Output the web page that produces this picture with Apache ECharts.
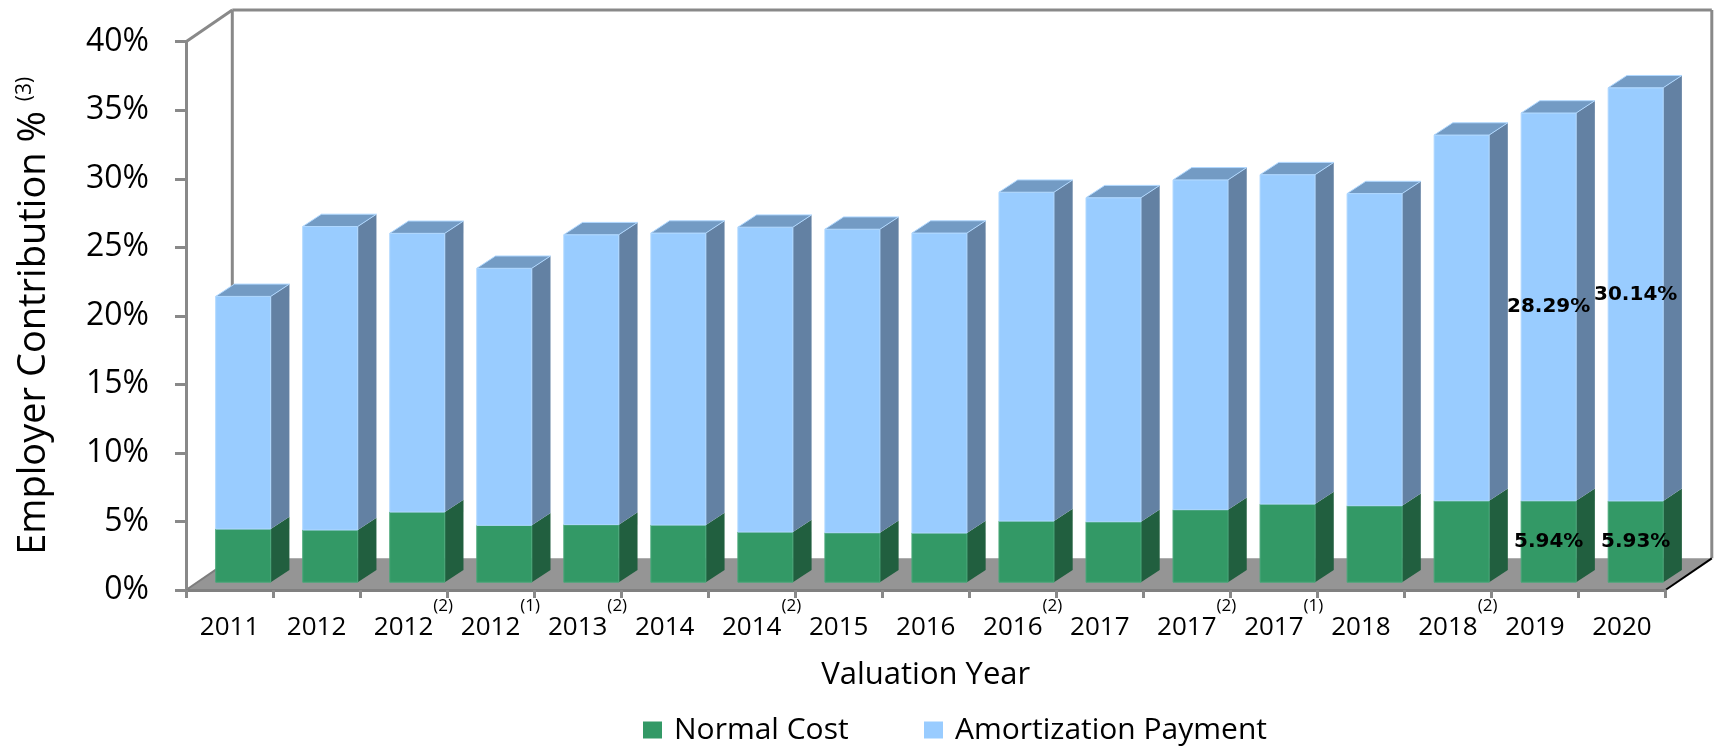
<!DOCTYPE html>
<html>
<head>
<meta charset="utf-8">
<title>Employer Contribution</title>
<script src="https://cdn.jsdelivr.net/npm/echarts@6/dist/echarts.min.js"></script>
<style>
    html, body { margin: 0; padding: 0; background: #fff; }
    #chart { width: 1718px; height: 747px; }
</style>
</head>
<body>
<div id="chart"></div>
<script>
var years = ['2011', '2012', '2012', '2012', '2013', '2014', '2014', '2015', '2016', '2016', '2017', '2017', '2017', '2018', '2018', '2019', '2020'];
var notes = ['', '', '(2)', '(1)', '(2)', '', '(2)', '', '', '(2)', '', '(2)', '(1)', '', '(2)', '', ''];
var normalCost = [3.88, 3.81, 5.12, 4.15, 4.20, 4.17, 3.66, 3.61, 3.59, 4.46, 4.41, 5.29, 5.70, 5.58, 5.94, 5.94, 5.93];
var amortPayment = [16.97, 22.14, 20.33, 18.75, 21.15, 21.30, 22.24, 22.14, 21.88, 23.99, 23.64, 24.06, 24.03, 22.77, 26.68, 28.29, 30.14];
var labelled = [15, 16];

var chart = echarts.init(document.getElementById('chart'));

// fake 3d, all in px
var WALL_DX = 46.3, WALL_DY = -31.7;
var FRONT_DX = 13.7, FRONT_DY = -7.8;
var SIDE_DX = 18.7, SIDE_DY = -12.3;
var BAR_W = 0.632;
var FONT = '"Open Sans", "Noto Sans", sans-serif';
var LINE = '#898989';

// categories must be unique, so keep the note on them
var categories = years.map(function (y, i) { return y + notes[i]; });

var normalData = normalCost.map(function (v, i) { return [i, 0, v]; });
var amortData = amortPayment.map(function (v, i) { return [i, normalCost[i], normalCost[i] + v]; });

function barItem(faces) {
    return function (params, api) {
        var k = api.value(0);
        var lo = api.coord([k, api.value(1)]);
        var hi = api.coord([k, api.value(2)]);
        var w = api.size([1, 0])[0] * BAR_W;
        var x = lo[0] + FRONT_DX - w / 2;
        var yb = lo[1] + FRONT_DY;
        var yt = hi[1] + FRONT_DY;
        var children = [
            {
                type: 'polygon',
                shape: { points: [[x + w, yb], [x + w, yt], [x + w + SIDE_DX, yt + SIDE_DY], [x + w + SIDE_DX, yb + SIDE_DY]] },
                style: { fill: faces.side }
            },
            {
                type: 'rect',
                shape: { x: x, y: yt, width: w, height: yb - yt },
                style: { fill: faces.front, stroke: faces.edge, lineWidth: 1 }
            }
        ];
        if (faces.top) {
            children.push({
                type: 'polygon',
                shape: { points: [[x, yt], [x + w, yt], [x + w + SIDE_DX, yt + SIDE_DY], [x + SIDE_DX, yt + SIDE_DY]] },
                style: { fill: faces.top, stroke: faces.edge, lineWidth: 1 }
            });
        }
        if (labelled.indexOf(params.dataIndex) >= 0) {
            children.push({
                type: 'text',
                x: x + w / 2,
                y: (yt + yb) / 2,
                z2: 10,
                style: {
                    text: (api.value(2) - api.value(1)).toFixed(2) + '%',
                    font: 'bold 20px "DejaVu Sans", sans-serif',
                    fill: '#000',
                    align: 'center',
                    verticalAlign: 'middle'
                }
            });
        }
        return { type: 'group', children: children };
    };
}

// back walls and floor
function frameItem(params, api) {
    var cs = params.coordSys;
    var x0 = cs.x, x1 = cs.x + cs.width, y0 = cs.y, yb = cs.y + cs.height;
    var bx0 = x0 + WALL_DX, bx1 = x1 + WALL_DX, by0 = y0 + WALL_DY, byb = yb + WALL_DY;
    var line = { stroke: LINE, lineWidth: 3, fill: null };
    return {
        type: 'group',
        children: [
            { type: 'polygon', shape: { points: [[x0, yb], [x1, yb], [bx1, byb], [bx0, byb]] }, style: { fill: '#959595' } },
            { type: 'line', shape: { x1: bx0, y1: by0, x2: bx0, y2: byb }, style: line },
            { type: 'line', shape: { x1: bx1, y1: by0, x2: bx1, y2: byb }, style: line },
            { type: 'line', shape: { x1: bx0, y1: by0, x2: bx1, y2: by0 }, style: line },
            { type: 'line', shape: { x1: x0, y1: y0, x2: bx0, y2: by0 }, style: line },
            { type: 'line', shape: { x1: x0, y1: yb, x2: bx0, y2: byb }, style: { stroke: '#7d7d7d', lineWidth: 2 } },
            { type: 'line', shape: { x1: x1, y1: yb, x2: bx1, y2: byb }, style: { stroke: '#000', lineWidth: 2 } }
        ]
    };
}

var legendText = { fontSize: 30, fontFamily: FONT, color: '#000', padding: [0, 0, 0, 7] };

var bar1option = {
    animation: false,
    backgroundColor: '#fff',
    grid: { left: 186, top: 41.7, width: 1479.5, height: 548.3 },
    legend: [
        { data: ['Normal Cost'], left: 643, top: 715, padding: 0, icon: 'rect', itemWidth: 19, itemHeight: 17, selectedMode: false, textStyle: legendText },
        { data: ['Amortization Payment'], left: 924, top: 715, padding: 0, icon: 'rect', itemWidth: 19, itemHeight: 17, selectedMode: false, textStyle: legendText }
    ],
    xAxis: {
        type: 'category',
        data: categories,
        z: 5,
        boundaryGap: true,
        name: 'Valuation Year',
        nameLocation: 'middle',
        nameGap: 70,
        nameTextStyle: { fontSize: 31, fontFamily: FONT, color: '#000' },
        axisLine: { lineStyle: { color: '#808080', width: 3 } },
        axisTick: { show: true, interval: 0, length: 8, lineStyle: { color: LINE, width: 3 } },
        axisLabel: {
            interval: 0,
            margin: 8,
            formatter: function (value, index) {
                if (notes[index]) {
                    return '{h|' + notes[index] + '}{a|' + years[index] + '}{s|' + notes[index] + '}';
                }
                return '{a|' + years[index] + '}';
            },
            rich: {
                a: { fontSize: 26, fontFamily: FONT, color: '#000', lineHeight: 30, padding: [30, 0, 0, 0] },
                s: { fontSize: 17, fontFamily: FONT, color: '#000', lineHeight: 20, verticalAlign: 'top' },
                h: { fontSize: 17, fontFamily: FONT, color: 'transparent', lineHeight: 20, verticalAlign: 'top' }
            }
        }
    },
    yAxis: {
        type: 'value',
        min: 0,
        max: 40,
        interval: 5,
        z: 5,
        name: '{t|Employer Contribution % }{s|(3)}',
        nameLocation: 'middle',
        nameRotate: 90,
        nameGap: 133,
        nameTextStyle: {
            rich: {
                t: { fontSize: 38, fontFamily: FONT, color: '#000' },
                s: { fontSize: 21, fontFamily: FONT, color: '#000', verticalAlign: 'top' }
            }
        },
        axisLine: { show: true, lineStyle: { color: LINE, width: 3 } },
        axisTick: { show: true, length: 11, lineStyle: { color: LINE, width: 3 } },
        splitLine: { show: false },
        axisLabel: { formatter: '{value}%', fontSize: 32, fontFamily: FONT, color: '#000', margin: 37 }
    },
    series: [
        {
            type: 'custom',
            z: 1,
            silent: true,
            renderItem: frameItem,
            data: [[0, 0]]
        },
        {
            name: 'Normal Cost',
            type: 'custom',
            itemStyle: { color: '#339966' },
            encode: { x: 0, y: [1, 2] },
            renderItem: barItem({ front: '#339966', side: '#215f3f', edge: '#4aa87a' }),
            data: normalData
        },
        {
            name: 'Amortization Payment',
            type: 'custom',
            itemStyle: { color: '#99ccff' },
            encode: { x: 0, y: [1, 2] },
            renderItem: barItem({ front: '#99ccff', side: '#6381a3', top: '#739bc4', edge: '#b0d8ff' }),
            data: amortData
        }
    ]
};

chart.setOption(bar1option);
</script>
</body>
</html>
